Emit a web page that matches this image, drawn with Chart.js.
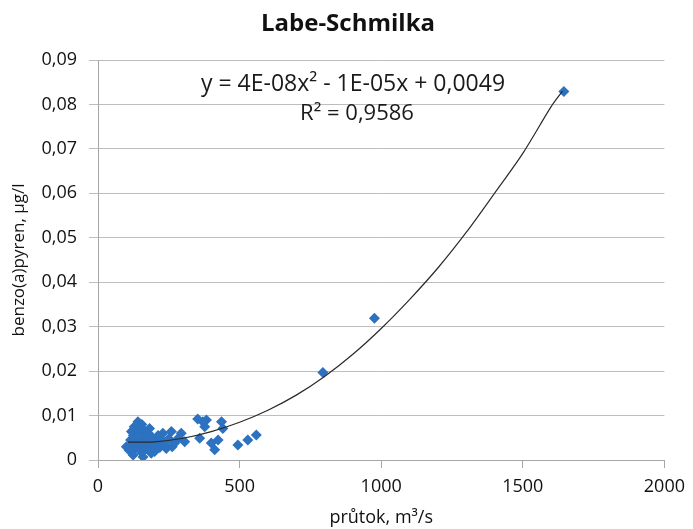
<!DOCTYPE html>
<html>
<head>
<meta charset="utf-8">
<script src="https://cdn.jsdelivr.net/npm/chart.js@4/dist/chart.umd.min.js"></script>
<style>
  html, body { margin: 0; padding: 0; background: #fff; }
  #wrap { width: 693px; height: 529px; }
</style>
</head>
<body>
<div id="wrap"><canvas id="chart" width="693" height="529"></canvas></div>
<script>
// mereni: prutok (m3/s) a benzo(a)pyren (ug/l)
const flowX = [
    141, 182, 118, 229, 259, 294, 306, 100, 124, 159, 200, 241, 271, 171, 136, 206,
    110, 115, 120, 125, 128, 132, 135, 145, 148, 150, 152, 155, 158, 162, 165, 168,
    175, 178, 185, 188, 192, 195, 212, 218, 225, 235, 250, 262, 285,
    383, 377, 436, 441, 400, 424, 412, 494, 529, 559, 359, 352, 370,
    794, 976, 1645
];
const bapY = [
    0.0086, 0.0071, 0.0064, 0.0060, 0.0064, 0.0060, 0.0041, 0.0030, 0.0011, 0.0007, 0.0019, 0.0026, 0.0038, 0.0049, 0.0041, 0.0041,
    0.0022, 0.0045, 0.0035, 0.0055, 0.0075, 0.0028, 0.0060, 0.0030, 0.0070, 0.0045, 0.0018, 0.0080, 0.0055, 0.0035, 0.0065, 0.0025,
    0.0030, 0.0060, 0.0040, 0.0015, 0.0050, 0.0030, 0.0055, 0.0028, 0.0045, 0.0035, 0.0048, 0.0030, 0.0050,
    0.0090, 0.0075, 0.0086, 0.0071, 0.0038, 0.0045, 0.0023, 0.0034, 0.0045, 0.0056, 0.0049, 0.0092, 0.0086,
    0.0197, 0.0319, 0.0829
];

// polynomicky trend
const trendX = [105, 200, 300, 400, 500, 600, 700, 800, 900, 1000, 1100, 1200, 1300, 1400, 1500, 1600, 1640];
const trendY = [0.0040, 0.0041, 0.0049, 0.0064, 0.0085, 0.0112, 0.0146, 0.0188, 0.0238, 0.0296, 0.0361, 0.0432, 0.0512, 0.0600, 0.0690, 0.0795, 0.0830];

const xTicks = [0, 500, 1000, 1500, 2000];
const yTicks = [0, 0.01, 0.02, 0.03, 0.04, 0.05, 0.06, 0.07, 0.08, 0.09];

const chartTitle = 'Labe-Schmilka';
const eqLines = ['y = 4E-08x² - 1E-05x + 0,0049', 'R² = 0,9586'];

const FONT = "'Open Sans', 'DejaVu Sans', sans-serif";

const points = flowX.map(function (x, i) { return { x: x, y: bapY[i] }; });
const trend = trendX.map(function (x, i) { return { x: x, y: trendY[i] }; });

const fmt = function (v) {
    if (Math.abs(v) < 1e-9) return '0';
    return v.toFixed(2).replace('.', ',');
};

// nadpis a rovnice trendu
const textPlugin = {
    id: 'texty',
    afterDatasetsDraw: function (chart) {
        const ctx = chart.ctx;
        ctx.save();
        ctx.textAlign = 'center';
        ctx.textBaseline = 'middle';
        ctx.fillStyle = '#111';
        ctx.font = 'bold 24px ' + FONT;
        ctx.fillText(chartTitle, 348, 24);
        ctx.fillStyle = '#1a1a1a';
        ctx.font = '23px ' + FONT;
        ctx.fillText(eqLines[0], 353, 84);
        ctx.font = '22px ' + FONT;
        ctx.fillText(eqLines[1], 357, 114);
        ctx.restore();
    }
};

new Chart(document.getElementById('chart'), {
    type: 'scatter',
    data: {
        datasets: [
            {
                label: 'trend',
                type: 'line',
                data: trend,
                borderColor: '#2a2a2a',
                borderWidth: 1.2,
                pointRadius: 0,
                fill: false,
                tension: 0.3,
            },
            {
                label: 'mereni',
                data: points,
                pointStyle: 'rectRot',
                pointRadius: 5.5,
                backgroundColor: '#2c72c0',
                borderColor: '#2c72c0',
                borderWidth: 0,
            },
        ],
    },
    options: {
        responsive: false,
        animation: false,
        layout: { padding: { left: 0, right: 28, top: 60, bottom: 0 } },
        plugins: {
            legend: { display: false },
            tooltip: { enabled: false },
            title: { display: false },
        },
        scales: {
            x: {
                type: 'linear',
                min: 0,
                max: 2000,
                afterBuildTicks: function (s) { s.ticks = xTicks.map(function (v) { return { value: v }; }); },
                afterFit: function (s) { s.height = 69; },
                ticks: { color: '#111', font: { family: FONT, size: 18 }, padding: 8, maxRotation: 0, callback: function (v) { return String(v); } },
                grid: { drawOnChartArea: false, color: '#a6a6a6', tickLength: 8 },
                border: { color: '#a6a6a6' },
                title: {
                    display: true,
                    text: 'průtok, m³/s',
                    color: '#111',
                    font: { family: FONT, size: 18 },
                    padding: { top: 0, bottom: 0 },
                },
            },
            y: {
                type: 'linear',
                min: 0,
                max: 0.09,
                afterBuildTicks: function (s) { s.ticks = yTicks.map(function (v) { return { value: v }; }); },
                afterFit: function (s) { s.width = 98; },
                ticks: { color: '#111', font: { family: FONT, size: 18 }, padding: 12, callback: fmt },
                grid: { color: '#bdbdbd', tickLength: 9 },
                border: { color: '#a6a6a6' },
                title: {
                    display: true,
                    text: 'benzo(a)pyren, µg/l',
                    color: '#111',
                    font: { family: FONT, size: 17 },
                    padding: { top: 9, bottom: 0 },
                },
            },
        },
    },
    plugins: [textPlugin],
});
</script>
</body>
</html>
